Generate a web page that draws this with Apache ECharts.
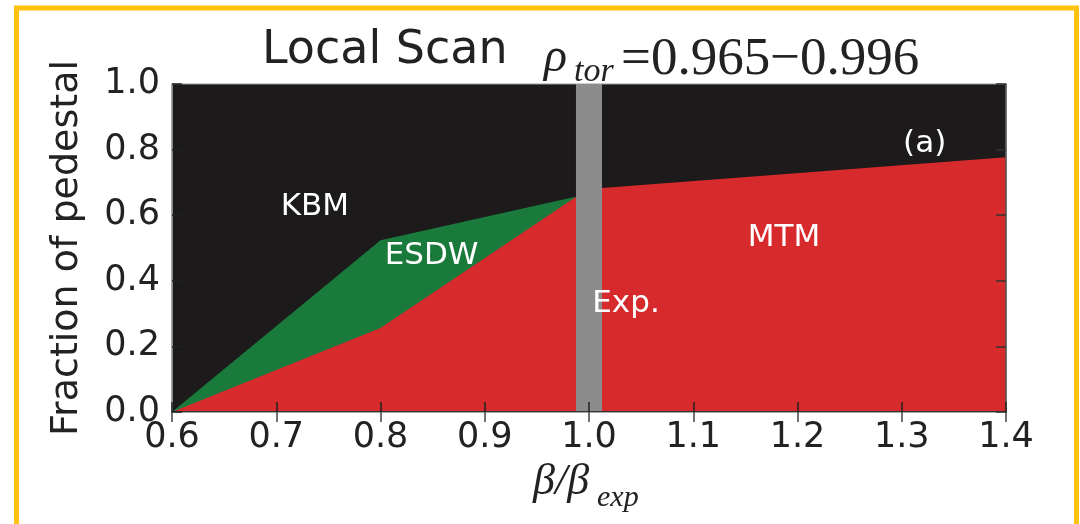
<!DOCTYPE html>
<html>
<head>
<meta charset="utf-8">
<title>Local Scan</title>
<script src="https://cdn.jsdelivr.net/npm/echarts@6/dist/echarts.min.js"></script>
<style>
  html, body { margin: 0; padding: 0; background: #ffffff; }
  #chart { width: 1080px; height: 524px; }
</style>
</head>
<body>
<div id="chart"></div>
<script>
// Boundaries of the instability regions, [beta/beta_exp, fraction of pedestal]
const esdwUpper = [[0.6, 0.0], [0.8, 0.524], [0.985, 0.655], [1.0, 0.66]];
const mtmUpper = [[0.6, 0.0], [0.8, 0.256], [0.987, 0.655], [1.0, 0.68], [1.4, 0.777]];
// Experimental beta band
const expBand = [0.9875, 1.0125];
// Axis ranges and ticks
const xRange = [0.6, 1.4];
const xStep = 0.1;
const yRange = [0.0, 1.0];
const yStep = 0.2;
// Region labels placed in data coordinates
const regionLabels = [
  { name: 'KBM', value: [0.737, 0.625] },
  { name: 'ESDW', value: [0.849, 0.476] },
  { name: 'MTM', value: [1.187, 0.531] },
  { name: 'Exp.', value: [1.0355, 0.33] },
  { name: '(a)', value: [1.322, 0.818] }
];

const COLORS = {
  kbm: '#1c1a1a',
  esdw: '#1a7a3c',
  mtm: '#d62a2c',
  exp: '#8c8c8c',
  frame: '#ffc20e',
  text: '#222222'
};

const chart = echarts.init(document.getElementById('chart'), null, { renderer: 'canvas' });

const tickFont = { fontFamily: 'DejaVu Sans', fontSize: 35, color: COLORS.text };
const fmt = v => v.toFixed(1);

function areaSeries(name, data, color, z) {
  return {
    name: name,
    type: 'line',
    data: data,
    z: z,
    silent: true,
    showSymbol: false,
    symbol: 'none',
    lineStyle: { width: 0 },
    areaStyle: { color: color, opacity: 1, origin: 'start' }
  };
}

const option = {
  animation: false,
  backgroundColor: '#ffffff',
  grid: {
    left: 172, right: 74, top: 84, bottom: 112,
    show: true,
    backgroundColor: COLORS.kbm,
    borderColor: '#999999',
    borderWidth: 1
  },
  xAxis: [
    {
      type: 'value', min: xRange[0], max: xRange[1], interval: xStep,
      position: 'bottom', z: 10,
      axisLine: { show: true, lineStyle: { color: '#333', width: 2 } },
      axisTick: { show: true, inside: true, length: 10, lineStyle: { color: '#222', width: 1.5 } },
      axisLabel: Object.assign({ margin: 8, formatter: fmt }, tickFont),
      splitLine: { show: false }
    },
    {
      type: 'value', min: xRange[0], max: xRange[1], interval: xStep,
      position: 'top', z: 10,
      axisLine: { show: true, lineStyle: { color: '#aaa', width: 1 } },
      axisTick: { show: true, inside: true, length: 10, lineStyle: { color: '#444', width: 1.5 } },
      axisLabel: { show: false },
      splitLine: { show: false }
    }
  ],
  yAxis: [
    {
      type: 'value', min: yRange[0], max: yRange[1], interval: yStep,
      position: 'left', z: 10,
      name: 'Fraction of pedestal',
      nameLocation: 'middle',
      nameGap: 86,
      nameTextStyle: { fontFamily: 'DejaVu Sans', fontSize: 38, color: COLORS.text },
      axisLine: { show: true, lineStyle: { color: '#999', width: 1.5 } },
      axisTick: { show: true, inside: true, length: 10, lineStyle: { color: '#222', width: 1.5 } },
      axisLabel: Object.assign({ margin: 12, formatter: fmt }, tickFont),
      splitLine: { show: false }
    },
    {
      type: 'value', min: yRange[0], max: yRange[1], interval: yStep,
      position: 'right', z: 10,
      axisLine: { show: true, lineStyle: { color: '#555', width: 1.5 } },
      axisTick: { show: true, inside: true, length: 10, lineStyle: { color: '#333', width: 1.5 } },
      axisLabel: { show: false },
      splitLine: { show: false }
    }
  ],
  series: [
    areaSeries('ESDW', esdwUpper, COLORS.esdw, 2),
    areaSeries('MTM', mtmUpper, COLORS.mtm, 3),
    {
      name: 'Exp.',
      type: 'custom',
      z: 4,
      silent: true,
      data: [[expBand[0], expBand[1], yRange[0], yRange[1]]],
      encode: { x: [0, 1], y: [2, 3] },
      renderItem: function (params, api) {
        const p0 = api.coord([api.value(0), api.value(3)]);
        const p1 = api.coord([api.value(1), api.value(2)]);
        return {
          type: 'rect',
          shape: { x: p0[0], y: p0[1], width: p1[0] - p0[0], height: p1[1] - p0[1] },
          style: { fill: COLORS.exp }
        };
      }
    },
    {
      name: 'labels',
      type: 'scatter',
      z: 6,
      silent: true,
      symbolSize: 1,
      itemStyle: { color: COLORS.kbm, opacity: 1 },
      data: regionLabels,
      label: {
        show: true,
        position: 'inside',
        formatter: '{b}',
        color: '#ffffff',
        opacity: 1,
        textBorderWidth: 0,
        fontFamily: 'DejaVu Sans',
        fontSize: 31,
        align: 'center',
        verticalAlign: 'middle'
      },
      emphasis: { disabled: true }
    }
  ],
  graphic: [
    // outer frame
    {
      type: 'rect', silent: true, z: 100,
      shape: { x: 16.5, y: 8, width: 1060, height: 580 },
      style: { fill: 'none', stroke: COLORS.frame, lineWidth: 5 }
    },
    // title
    {
      type: 'text', left: 262, top: 28, silent: true,
      style: { text: 'Local Scan', font: '46px "DejaVu Sans"', fill: COLORS.text }
    },
    {
      type: 'text', left: 544, top: 34, silent: true,
      style: { text: 'ρ', font: 'italic 48px "Liberation Serif"', fill: COLORS.text }
    },
    {
      type: 'text', left: 574, top: 55, silent: true,
      style: { text: 'tor', font: 'italic 34px "Liberation Serif"', fill: COLORS.text }
    },
    {
      type: 'text', left: 621, top: 34, silent: true,
      style: { text: '=0.965−0.996', font: '53px "Liberation Serif"', fill: COLORS.text }
    },
    // x axis name
    {
      type: 'text', left: 533, top: 460, silent: true,
      style: { text: 'β/β', font: 'italic 44px "Liberation Serif"', fill: COLORS.text }
    },
    {
      type: 'text', left: 597, top: 483, silent: true,
      style: { text: 'exp', font: 'italic 30px "Liberation Serif"', fill: COLORS.text }
    }
  ]
};

chart.setOption(option);
</script>
</body>
</html>
